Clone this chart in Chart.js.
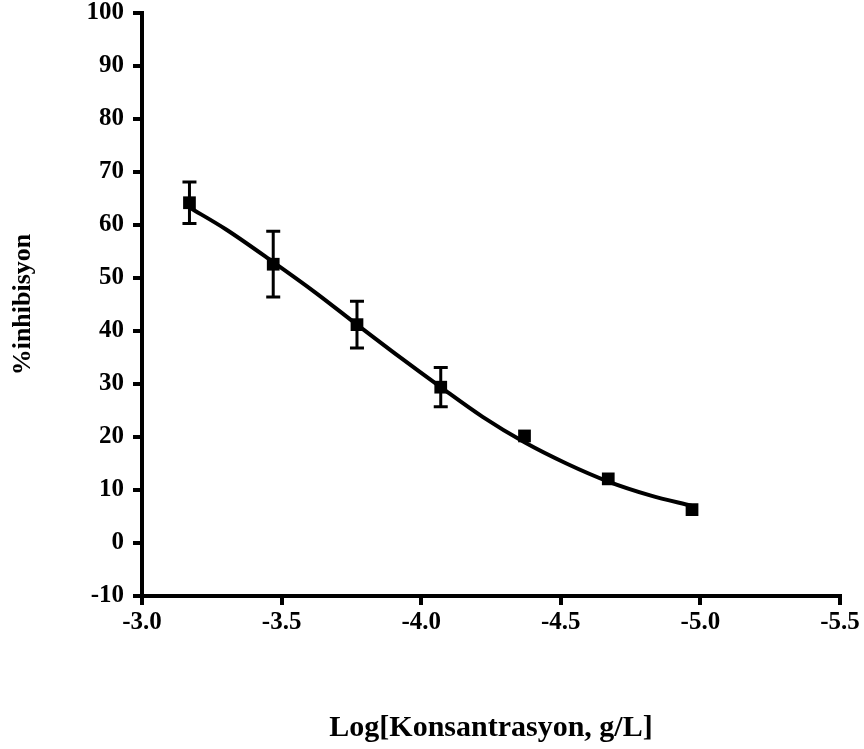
<!DOCTYPE html>
<html>
<head>
<meta charset="utf-8">
<script src="https://cdn.jsdelivr.net/npm/chart.js@4/dist/chart.umd.min.js"></script>
<style>
    html, body { margin: 0; padding: 0; background: #fff; }
    #wrap { width: 864px; height: 749px; }
</style>
</head>
<body>
<div id="wrap"><canvas id="myChart" width="864" height="749"></canvas></div>
<script>
// measured points (log concentration vs % inhibition) with error bar half-widths
var logConc = [-3.17, -3.47, -3.77, -4.07, -4.37, -4.67, -4.97];
var inhibition = [64.2, 52.6, 41.2, 29.4, 20.2, 12.1, 6.3];
var errors = [3.9, 6.2, 4.4, 3.7, 0, 0, 0];

// fitted curve
var fitX = [-3.17, -3.30, -3.47, -3.62, -3.77, -3.92, -4.07, -4.22, -4.37, -4.52, -4.67, -4.82, -4.97];
var fitY = [63.3, 59.2, 53.0, 47.3, 41.2, 35.2, 29.4, 23.8, 19.0, 15.0, 11.6, 9.0, 7.0];

var xTicks = [-3.0, -3.5, -4.0, -4.5, -5.0, -5.5];

var pointData = [];
for (var i = 0; i < logConc.length; i++) {
    pointData.push({ x: logConc[i], y: inhibition[i] });
}
var fitData = [];
for (var j = 0; j < fitX.length; j++) {
    fitData.push({ x: fitX[j], y: fitY[j] });
}

// draw the error bars with the chart's scales
var errorBarPlugin = {
    id: 'errorBars',
    afterDatasetsDraw: function(chart) {
        var ctx = chart.ctx;
        var xs = chart.scales.x;
        var ys = chart.scales.y;
        ctx.save();
        ctx.strokeStyle = '#000';
        ctx.lineWidth = 3;
        for (var i = 0; i < logConc.length; i++) {
            if (!errors[i]) continue;
            var px = xs.getPixelForValue(logConc[i]);
            var top = ys.getPixelForValue(inhibition[i] + errors[i]);
            var bottom = ys.getPixelForValue(inhibition[i] - errors[i]);
            ctx.beginPath();
            ctx.moveTo(px, top);
            ctx.lineTo(px, bottom);
            ctx.moveTo(px - 7, top);
            ctx.lineTo(px + 7, top);
            ctx.moveTo(px - 7, bottom);
            ctx.lineTo(px + 7, bottom);
            ctx.stroke();
        }
        ctx.restore();
    }
};

var serif = '"Liberation Serif", "Times New Roman", serif';
var tickFont = { family: serif, size: 25, weight: 'bold' };

var ctx = document.getElementById('myChart').getContext('2d');
var myChart = new Chart(ctx, {
    type: 'scatter',
    data: {
        datasets: [{
            label: 'fit',
            data: fitData,
            showLine: true,
            borderColor: '#000',
            borderWidth: 4,
            pointRadius: 0,
            cubicInterpolationMode: 'monotone',
            fill: false
        },
        {
            label: 'data',
            data: pointData,
            pointStyle: 'rect',
            pointRadius: 9,
            backgroundColor: '#000',
            borderColor: '#000',
            borderWidth: 0
        }]
    },
    options: {
        responsive: false,
        animation: false,
        layout: { padding: { top: 13, right: 24, left: 0, bottom: 0 } },
        plugins: {
            legend: { display: false },
            tooltip: { enabled: false }
        },
        scales: {
            x: {
                type: 'linear',
                reverse: true,
                min: -5.5,
                max: -3.0,
                afterBuildTicks: function(scale) {
                    scale.ticks = xTicks.map(function(v) { return { value: v }; });
                },
                afterFit: function(scale) { scale.height = 153; },
                grid: { display: true, drawOnChartArea: false, drawTicks: true, tickLength: 9, color: '#000', lineWidth: 4 },
                border: { display: true, color: '#000', width: 4 },
                ticks: {
                    color: '#000',
                    font: tickFont,
                    padding: 3,
                    maxRotation: 0,
                    callback: function(v) { return Number(v).toFixed(1); }
                },
                title: {
                    display: true,
                    text: 'Log[Konsantrasyon, g/L]',
                    color: '#000',
                    font: { family: serif, size: 30, weight: 'bold' },
                    padding: { top: 0, bottom: 3 }
                }
            },
            y: {
                min: -10,
                max: 100,
                afterFit: function(scale) {
                    scale.width = 142;
                    // let the top label overhang the plot like the original
                    scale.paddingTop = 0;
                    scale.paddingBottom = 0;
                },
                grid: { display: true, drawOnChartArea: false, drawTicks: true, tickLength: 9, color: '#000', lineWidth: 4 },
                border: { display: true, color: '#000', width: 4 },
                ticks: {
                    stepSize: 10,
                    color: '#000',
                    font: tickFont,
                    padding: 9
                },
                title: {
                    display: true,
                    text: '%inhibisyon',
                    color: '#000',
                    font: { family: serif, size: 26, weight: 'bold' },
                    padding: { top: 8, bottom: 0 }
                }
            }
        }
    },
    plugins: [errorBarPlugin]
});
</script>
</body>
</html>
